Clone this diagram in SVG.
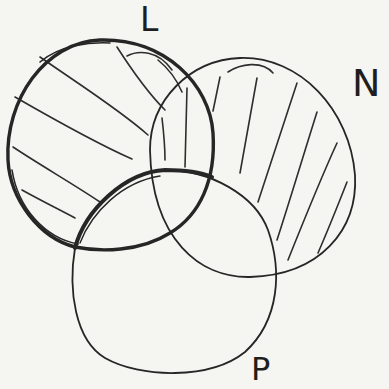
<svg xmlns="http://www.w3.org/2000/svg" width="389" height="389" viewBox="0 0 389 389">
<style>
.o{fill:none;stroke:#262626;stroke-linecap:round;stroke-linejoin:round}
.thin{stroke-width:1.8}
.thick{stroke-width:3.4}
.h{fill:none;stroke:#2e2e2e;stroke-width:1.6;stroke-linecap:round}
.lbl{font-family:"DejaVu Sans","Liberation Sans",sans-serif;fill:#1e1e1e}
</style>
<rect width="389" height="389" fill="#f5f5f1"/>
<g id="hatching">
<path class="h" d="M40,57 C80,85 120,110 148,135"/>
<path class="h" d="M15,97 C55,120 100,145 132,159"/>
<path class="h" d="M13,147 C40,165 75,185 100,202"/>
<path class="h" d="M22,190 C40,200 60,210 75,218"/>
<path class="h" d="M117,47 C135,75 150,95 165,110"/>
<path class="h" d="M162,118 C164,135 165,148 165,160"/>
<path class="h" d="M127,56 C138,50 158,50 172,70"/>
<path class="h" d="M158,60 C168,68 176,78 182,92"/>
<path class="h" d="M187,88 L185,167"/>
<path class="h" d="M228,72 C240,64 262,60 273,73"/>
<path class="h" d="M220,77 L213,111"/>
<path class="h" d="M257,78 L240,173"/>
<path class="h" d="M297,83 C285,120 270,165 258,202"/>
<path class="h" d="M317,112 C305,150 290,200 277,240"/>
<path class="h" d="M337,143 C320,180 302,225 288,260"/>
<path class="h" d="M347,182 C338,205 328,230 318,253"/>
</g>
<g id="circle-N">
<path class="o thin" d="M150,150 C150,100 190,60 240,58 C300,56 350,110 355,175 C358,230 320,275 250,277 C200,278 152,240 150,150 Z"/>
</g>
<g id="circle-P">
<path class="o thin" d="M75,248 C85,210 125,172 165,170 C210,170 255,195 268,230 C282,270 280,320 245,352 C210,380 140,378 105,358 C75,340 68,290 75,248 Z"/>
<path class="o" stroke-width="4" d="M75,248 C85,210 125,172 165,170 C185,170 200,172 212,177"/>
<path class="o" stroke-width="1.4" d="M80,243 C92,212 122,182 160,176"/>
</g>
<g id="circle-L">
<path class="o thick" d="M100,40 C165,38 210,85 213,133 C216,180 200,215 170,233 C140,252 100,252 75,247 C40,238 10,200 8,160 C5,100 45,42 100,40 Z"/>
<path class="o" stroke-width="1.6" d="M12,170 C18,208 45,238 78,244"/>
<path class="o" stroke-width="1.6" d="M40,62 C60,45 90,42 110,43"/>
</g>
<g id="label-L"><text class="lbl" x="140" y="31" font-size="33">L</text></g>
<g id="label-N"><text class="lbl" x="352" y="96" font-size="38">N</text></g>
<g id="label-P"><text class="lbl" x="251" y="380" font-size="32">P</text></g>
</svg>
